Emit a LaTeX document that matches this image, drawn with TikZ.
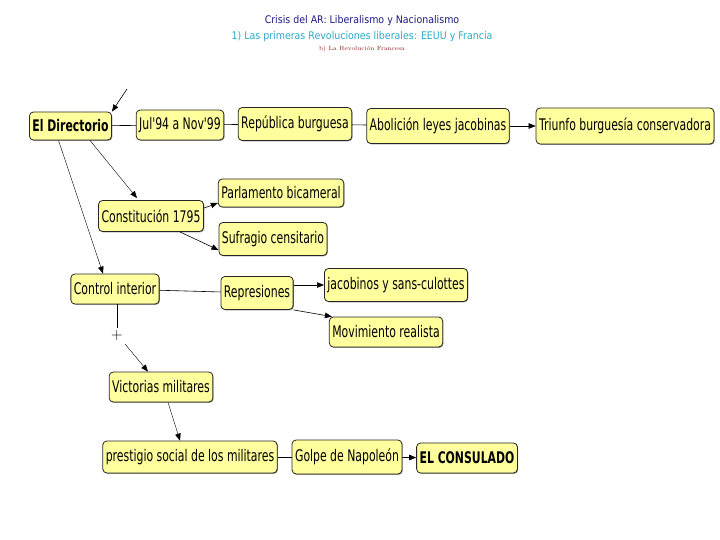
\documentclass[tikz,border=0pt]{standalone}
\usepackage{fontspec}
\newfontfamily\nodefont[FakeStretch=0.68]{DejaVu Sans}
\newfontfamily\titlefont[FakeStretch=0.9]{DejaVu Sans}
\usetikzlibrary{arrows.meta,shadows}
\definecolor{boxfill}{HTML}{FFFF9E}
\definecolor{titleblue}{HTML}{1A1A80}
\definecolor{titlecyan}{HTML}{2AA9C8}
\definecolor{titlered}{HTML}{8B1A1A}
\tikzset{
  concept/.style={draw=black!85, line width=0.8pt, fill=boxfill, rounded corners=4pt,
    drop shadow={shadow xshift=0.8pt, shadow yshift=-0.8pt, fill=black!60, opacity=0.7},
    inner xsep=3pt, inner ysep=0pt, minimum height=#1, font=\nodefont\fontsize{16}{18}\selectfont},
  concept/.default=30pt,
  boldtext/.style={font=\nodefont\bfseries\fontsize{16}{18}\selectfont},
  link/.style={draw=black, line width=0.6pt},
  arr/.style={link, -{Triangle[length=7pt,width=5.5pt]}},
  thin/.style={draw=black, line width=0.4pt},
  thinarr/.style={thin, -{Triangle[length=7pt,width=5.5pt]}}
}
\begin{document}
\begin{tikzpicture}[x=1pt,y=-1pt]
\useasboundingbox (0,0) rectangle (720,540);
% titles
\node[font=\titlefont\fontsize{10.5}{12}\selectfont, text=titleblue] (t1) at (362,21) {Crisis del AR: Liberalismo y Nacionalismo};
\node[font=\titlefont\fontsize{10.5}{12}\selectfont, text=titlecyan] (t2) at (362,37) {1) Las primeras Revoluciones liberales: EEUU y Francia};
\node[font=\rmfamily\fontsize{6}{7}\selectfont, text=titlered] (t3) at (362,49) {b) La Revolución Francesa};
% nodes
\node[concept=28pt, boldtext] (dir) at (70.5,126) {El Directorio};
\node[concept] (jul) at (180,125) {Jul'94 a Nov'99};
\node[concept=33pt] (rep) at (295,124) {República burguesa};
\node[concept=35pt] (abo) at (438,126) {Abolición leyes jacobinas};
\node[concept=36pt] (tri) at (625,126) {Triunfo burguesía conservadora};
\node[concept=28pt] (par) at (281,193) {Parlamento bicameral};
\node[concept=31pt] (con) at (151,216) {Constitución 1795};
\node[concept=33pt] (suf) at (273,239) {Sufragio censitario};
\node[concept] (ctl) at (115,289) {Control interior};
\node[concept=33pt] (rpr) at (257,293) {Represiones};
\node[concept=33pt] (jac) at (396,285) {jacobinos y sans-culottes};
\node[concept] (mov) at (386,332) {Movimiento realista};
\node[concept] (vic) at (161,387) {Victorias militares};
\node[concept=32pt] (pre) at (190,457) {prestigio social de los militares};
\node[concept=34pt] (gol) at (347,457) {Golpe de Napoleón};
\node[concept=30pt, boldtext] (cns) at (467,458) {EL CONSULADO};
\node[inner sep=0pt, font=\fontsize{16}{16}\selectfont] (plus) at (117,336) {+};
\coordinate (in) at (127,89);
% connectors
\draw[arr] (in) -- (dir.north east);
\draw[link] (dir) -- (jul);
\draw[link] (jul) -- (rep);
\draw[link] (rep) -- (abo);
\draw[arr] (abo) -- (tri);
\draw[thinarr] ([xshift=-22pt]dir.south east) -- ([xshift=-14pt,yshift=2pt]con.north);
\draw[thinarr] ([xshift=-12pt]dir.south) -- ([xshift=-12pt]ctl.north);
\draw[arr] ([yshift=-8pt]con.north east) -- ([yshift=-10pt]par.west);
\draw[arr] ([xshift=-24pt]con.south east) -- ([yshift=-11pt]suf.west);
\draw[link] (ctl) -- (rpr);
\draw[arr] (rpr.east |- jac) -- (jac);
\draw[arr] (rpr.south east) -- ([xshift=3pt]mov.north west);
\draw[thin] ([xshift=2pt]ctl.south) -- (117,328);
\draw[thinarr] (125,344) -- ([xshift=-13pt]vic.north);
\draw[thinarr] ([xshift=7pt]vic.south) -- ([xshift=-10pt]pre.north);
\draw[link] (pre) -- (gol);
\draw[arr] (gol) -- (cns);
\end{tikzpicture}
\end{document}
